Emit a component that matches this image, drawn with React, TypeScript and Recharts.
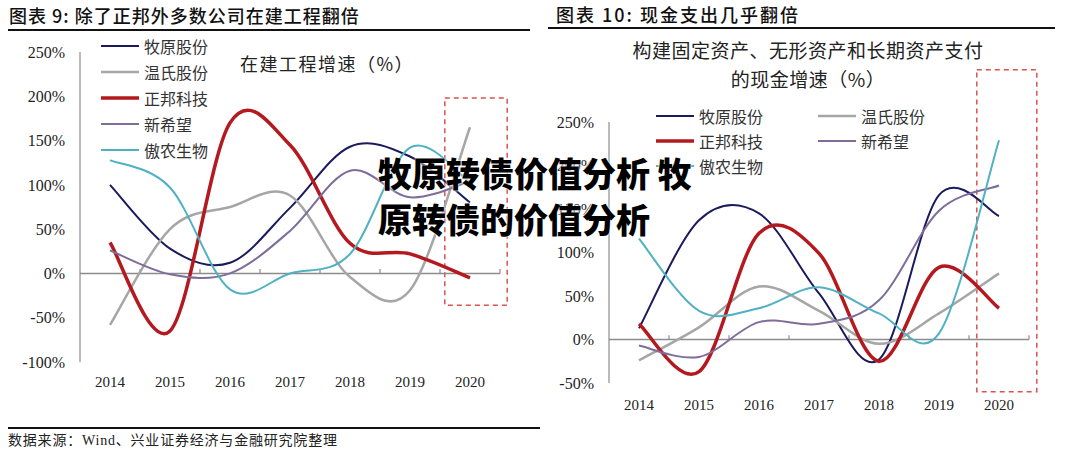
import { LineChart, Line, XAxis, YAxis, ReferenceLine, ReferenceArea } from 'recharts';

const years = ['2014', '2015', '2016', '2017', '2018', '2019', '2020'];

// 在建工程增速 (%)
const muyuanCip = [100, 28, 12, 74, 143, 132, 80];
const wensCip = [-58, 50, 75, 88, -4, -19, 165];
const zhengbangCip = [35, -65, 170, 145, 34, 22, -5];
const xinxiwangCip = [26, -1, 0, 48, 116, 86, 104];
const aonongCip = [128, 97, -18, 0, 22, 142, 103];

// 构建固定资产、无形资产和长期资产支付的现金增速 (%)
const muyuanCash = [13, 137, 145, 53, -23, 166, 142];
const wensCash = [-24, 14, 61, 33, -5, 30, 76];
const zhengbangCash = [18, -37, 122, 99, -25, 83, 36];
const xinxiwangCash = [-7, -20, 20, 18, 45, 148, 177];
const aonongCash = [116, 33, 36, 60, 30, 7, 229];

const leftTicks = [-100, -50, 0, 50, 100, 150, 200, 250];
const rightTicks = [-50, 0, 50, 100, 150, 200, 250];

const series = [
  { key: 'muyuan', name: '牧原股份', color: '#1b1a5c', width: 2 },
  { key: 'wens', name: '温氏股份', color: '#a6a6a6', width: 2.5 },
  { key: 'zhengbang', name: '正邦科技', color: '#b3191e', width: 3.5 },
  { key: 'xinxiwang', name: '新希望', color: '#7e6d9b', width: 2 },
  { key: 'aonong', name: '傲农生物', color: '#4fb1c2', width: 2 },
];

const build = (m: number[], w: number[], z: number[], x: number[], a: number[]) =>
  years.map((year, i) => ({ idx: i, year, muyuan: m[i], wens: w[i], zhengbang: z[i], xinxiwang: x[i], aonong: a[i] }));

const cipData = build(muyuanCip, wensCip, zhengbangCip, xinxiwangCip, aonongCip);
const cashData = build(muyuanCash, wensCash, zhengbangCash, xinxiwangCash, aonongCash);

// Excel-like smoothed line (Catmull-Rom through every point)
const smooth = (context: any) => {
  let pts: number[][] = [];
  return {
    areaStart() {},
    areaEnd() {},
    lineStart() { pts = []; },
    point(x: number, y: number) { pts.push([x, y]); },
    lineEnd() {
      const n = pts.length;
      if (!n) return;
      context.moveTo(pts[0][0], pts[0][1]);
      for (let i = 0; i < n - 1; i++) {
        const p0 = pts[Math.max(i - 1, 0)], p1 = pts[i], p2 = pts[i + 1], p3 = pts[Math.min(i + 2, n - 1)];
        context.bezierCurveTo(
          p1[0] + (p2[0] - p0[0]) / 6, p1[1] + (p2[1] - p0[1]) / 6,
          p2[0] - (p3[0] - p1[0]) / 6, p2[1] - (p3[1] - p1[1]) / 6,
          p2[0], p2[1]
        );
      }
    },
  };
};

const SERIF = '"Liberation Serif", "Noto Sans CJK SC", serif';
const CJK = '"Noto Sans CJK SC", "Liberation Serif", sans-serif';
const AXIS = '#8c8c8c';
const boundaries = [0.5, 1.5, 2.5, 3.5, 4.5, 5.5, 6.5];

const LegendBox = ({ columns, left, top }: { columns: number; left: number; top: number }) => (
  <div
    style={{
      position: 'absolute',
      left,
      top,
      display: 'grid',
      gridTemplateColumns: `repeat(${columns}, ${columns > 1 ? 162 : 130}px)`,
      rowGap: columns > 1 ? 5 : 6,
    }}
  >
    {series.map((s) => (
      <div key={s.key} style={{ display: 'flex', alignItems: 'center', height: 20 }}>
        <svg width={40} height={10} style={{ marginRight: 4 }}>
          <line x1={1} y1={5} x2={39} y2={5} stroke={s.color} strokeWidth={s.width} />
        </svg>
        <span style={{ fontFamily: CJK, fontSize: 16, color: '#333' }}>{s.name}</span>
      </div>
    ))}
  </div>
);

type PanelProps = {
  data: any[];
  ticks: number[];
  margin: { top: number; right: number; left: number; bottom: number };
  yWidth: number;
  box: { x1: number; x2: number; y1: number; y2: number };
  tickMargin: number;
};

const Panel = ({ data, ticks, margin, yWidth, box, tickMargin }: PanelProps) => (
  <LineChart width={540} height={420} data={data} margin={margin}>
    <XAxis
      dataKey="idx"
      type="number"
      domain={[-0.5, 6.5]}
      ticks={[0, 1, 2, 3, 4, 5, 6]}
      tickFormatter={(i: number) => years[i]}
      axisLine={false}
      tickLine={false}
      height={30}
      tickMargin={tickMargin}
      tick={{ fontFamily: SERIF, fontSize: 15, fill: '#222' }}
    />
    <YAxis
      domain={[ticks[0], ticks[ticks.length - 1]]}
      ticks={ticks}
      tickFormatter={(v: number) => `${v}%`}
      width={yWidth}
      axisLine={{ stroke: AXIS, strokeWidth: 1.2 }}
      tickLine={false}
      tickMargin={9}
      tick={{ fontFamily: SERIF, fontSize: 16, fill: '#222' }}
    />
    <ReferenceLine y={0} stroke={AXIS} strokeWidth={1.5} />
    {boundaries.map((b) => (
      <ReferenceLine key={b} segment={[{ x: b, y: 0 }, { x: b, y: 5 }]} stroke={AXIS} strokeWidth={1.2} ifOverflow="visible" />
    ))}
    {series.map((s) => (
      <Line
        key={s.key}
        dataKey={s.key}
        name={s.name}
        type={smooth as any}
        stroke={s.color}
        strokeWidth={s.width}
        dot={false}
        isAnimationActive={false}
      />
    ))}
    <ReferenceArea
      x1={box.x1}
      x2={box.x2}
      y1={box.y1}
      y2={box.y2}
      fill="none"
      stroke="#d9534f"
      strokeWidth={1.5}
      strokeDasharray="5 4"
      ifOverflow="visible"
    />
  </LineChart>
);

export default function App() {
  return (
    <div style={{ position: 'absolute', left: 0, top: 0, width: 1080, height: 449, background: '#fff', overflow: 'hidden', color: '#111' }}>
      <div style={{ position: 'absolute', left: 9, top: 2, fontFamily: CJK, fontSize: 18, letterSpacing: 1, fontWeight: 500 }}>图表 9:  除了正邦外多数公司在建工程翻倍</div>
      <div style={{ position: 'absolute', left: 8, top: 29, width: 522, height: 2, background: '#111' }} />
      <div style={{ position: 'absolute', left: 556, top: 1, fontFamily: CJK, fontSize: 18, letterSpacing: 2, fontWeight: 500 }}>图表 10:  现金支出几乎翻倍</div>
      <div style={{ position: 'absolute', left: 548, top: 27, width: 507, height: 2, background: '#111' }} />

      <div style={{ position: 'absolute', left: 0, top: 0 }}>
        <Panel
          data={cipData}
          ticks={leftTicks}
          margin={{ top: 52, right: 40, left: 10, bottom: 28 }}
          yWidth={70}
          box={{ x1: 5.58, x2: 6.62, y1: -36, y2: 198 }}
          tickMargin={8}
        />
      </div>
      <LegendBox columns={1} left={100} top={36} />
      <div style={{ position: 'absolute', left: 240, top: 50, fontFamily: CJK, fontSize: 18, letterSpacing: 1.5, color: '#222' }}>在建工程增速（%）</div>

      <div style={{ position: 'absolute', left: 540, top: 0 }}>
        <Panel
          data={cashData}
          ticks={rightTicks}
          margin={{ top: 122, right: 51, left: 10, bottom: 7 }}
          yWidth={59}
          box={{ x1: 5.63, x2: 6.63, y1: -60, y2: 310 }}
          tickMargin={10}
        />
      </div>
      <LegendBox columns={2} left={655} top={106} />
      <div style={{ position: 'absolute', left: 598, top: 35, width: 420, textAlign: 'center', fontFamily: CJK, fontSize: 19, lineHeight: '29px', letterSpacing: 0.5, color: '#222' }}>
        构建固定资产、无形资产和长期资产支付
        <br />
        的现金增速（%）
      </div>

      <div style={{ position: 'absolute', left: 8, top: 427, width: 532, height: 2, background: '#111' }} />
      <div style={{ position: 'absolute', left: 8, top: 429, fontFamily: SERIF, fontSize: 14, letterSpacing: 0.8, color: '#222' }}>数据来源：Wind、兴业证券经济与金融研究院整理</div>

      <div style={{ position: 'absolute', left: 378, top: 150, fontFamily: CJK, fontSize: 34, fontWeight: 900, lineHeight: '46px', color: '#000', textShadow: '0 0 2px #fff, 0 0 2px #fff' }}>
        牧原转债价值分析 牧
        <br />
        原转债的价值分析
      </div>
    </div>
  );
}
